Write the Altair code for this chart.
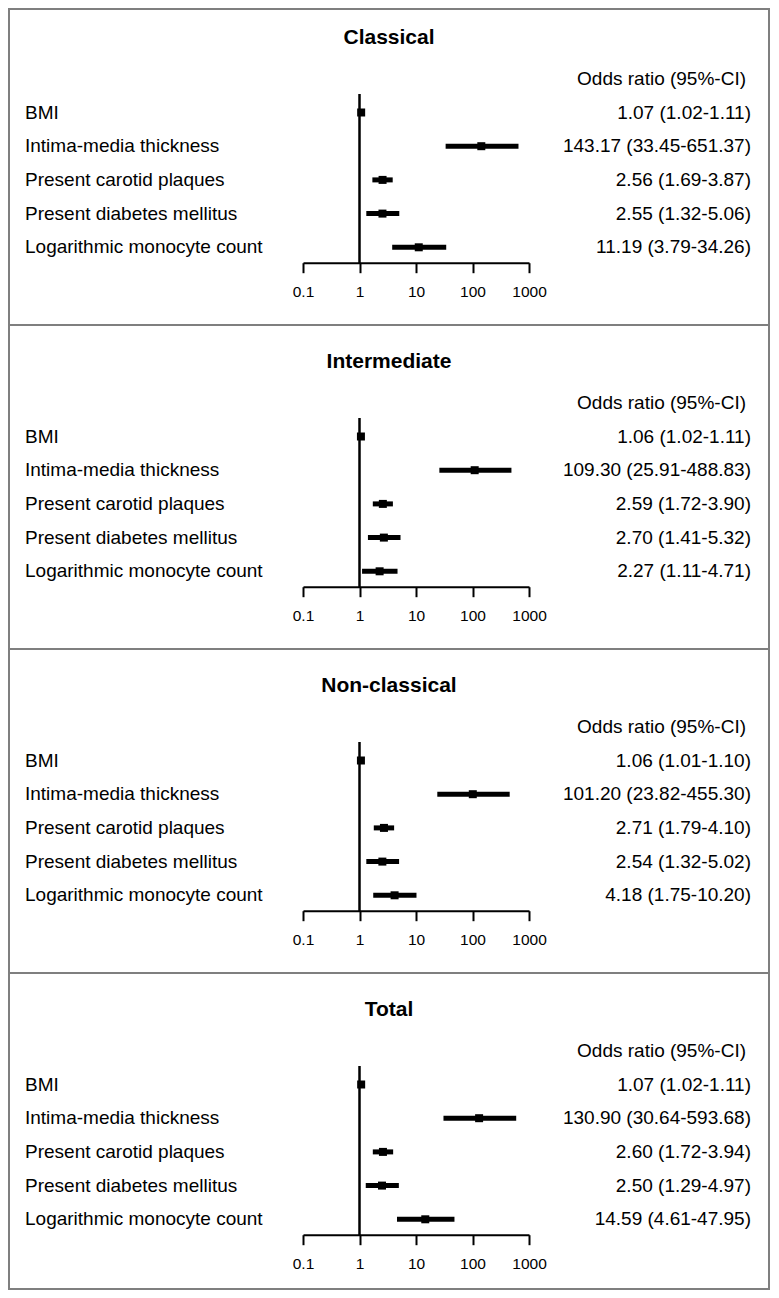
import altair as alt
import pandas as pd

FONT = "Liberation Sans"

VARIABLES = [
    "BMI",
    "Intima-media thickness",
    "Present carotid plaques",
    "Present diabetes mellitus",
    "Logarithmic monocyte count",
]
PANEL_TITLES = ["Classical", "Intermediate", "Non-classical", "Total"]
HEADER = "Odds ratio (95%-CI)"
TICK_VALUES = [0.1, 1, 10, 100, 1000]
REFERENCE_OR = [1.0]

CLASSICAL_OR = [1.07, 143.17, 2.56, 2.55, 11.19]
CLASSICAL_LO = [1.02, 33.45, 1.69, 1.32, 3.79]
CLASSICAL_HI = [1.11, 651.37, 3.87, 5.06, 34.26]

INTERMEDIATE_OR = [1.06, 109.30, 2.59, 2.70, 2.27]
INTERMEDIATE_LO = [1.02, 25.91, 1.72, 1.41, 1.11]
INTERMEDIATE_HI = [1.11, 488.83, 3.90, 5.32, 4.71]

NONCLASSICAL_OR = [1.06, 101.20, 2.71, 2.54, 4.18]
NONCLASSICAL_LO = [1.01, 23.82, 1.79, 1.32, 1.75]
NONCLASSICAL_HI = [1.10, 455.30, 4.10, 5.02, 10.20]

TOTAL_OR = [1.07, 130.90, 2.60, 2.50, 14.59]
TOTAL_LO = [1.02, 30.64, 1.72, 1.29, 4.61]
TOTAL_HI = [1.11, 593.68, 3.94, 4.97, 47.95]

SERIES = [
    (CLASSICAL_OR, CLASSICAL_LO, CLASSICAL_HI),
    (INTERMEDIATE_OR, INTERMEDIATE_LO, INTERMEDIATE_HI),
    (NONCLASSICAL_OR, NONCLASSICAL_LO, NONCLASSICAL_HI),
    (TOTAL_OR, TOTAL_LO, TOTAL_HI),
]
# panel plot heights and the offset of each panel's top from its frame in the reference
HEIGHTS = [316, 324, 324, 316]
SHIFTS = [8, 0, 0, 0]
W = 760


def panel(title, orv, lo, hi, H, shift):
    df = pd.DataFrame({
        "row": list(range(1, len(VARIABLES) + 1)),
        "var": VARIABLES,
        "or": orv,
        "lo": lo,
        "hi": hi,
        "lab": [f"{o:.2f} ({l:.2f}-{h:.2f})" for o, l, h in zip(orv, lo, hi)],
    })
    xsc = alt.Scale(type="log", domain=[0.1, 1000], range=[294, 520])
    xax = alt.Axis(
        values=TICK_VALUES, format="~g", grid=False, title=None,
        domainColor="black", domainWidth=2, tickColor="black", tickWidth=2,
        tickSize=10, labelFont=FONT, labelFontSize=15.5, labelColor="black",
        labelPadding=12, labelFlush=False, labelOverlap=False,
        offset=261.7 - shift - H,
    )
    ysc = alt.Scale(domain=[0, 5], range=[77.8 - shift, 246.3 - shift])
    yenc = alt.Y("row:Q", scale=ysc, axis=None)
    base = alt.Chart(df)

    ref = alt.Chart(pd.DataFrame({"v": REFERENCE_OR})).mark_rule(
        color="black", strokeWidth=2.5
    ).encode(
        x=alt.X("v:Q", scale=xsc, axis=xax),
        y=alt.value(93 - shift),
        y2=alt.value(262 - shift),
    )
    ci = base.mark_rule(color="black", strokeWidth=5).encode(
        x=alt.X("lo:Q", scale=xsc, axis=xax), x2="hi:Q", y=yenc
    )
    pts = base.mark_square(color="black", size=64, opacity=1).encode(
        x=alt.X("or:Q", scale=xsc, axis=xax), y=yenc
    )
    left = base.mark_text(
        align="left", baseline="middle", font=FONT, fontSize=19, color="black"
    ).encode(x=alt.value(16), y=yenc, text="var:N")
    right = base.mark_text(
        align="right", baseline="middle", font=FONT, fontSize=19, color="black"
    ).encode(x=alt.value(742), y=yenc, text="lab:N")
    header = alt.Chart(pd.DataFrame({"row": [0], "t": [HEADER]})).mark_text(
        align="right", baseline="middle", font=FONT, fontSize=19, color="black"
    ).encode(x=alt.value(737), y=yenc, text="t:N")
    ttl = alt.Chart(pd.DataFrame({"t": [title]})).mark_text(
        align="center", baseline="middle", font=FONT, fontSize=21,
        fontWeight="bold", color="black"
    ).encode(x=alt.value(380), y=alt.value(37 - shift), text="t:N")

    return alt.layer(ref, ci, pts, left, right, header, ttl).properties(
        width=W, height=H
    )


panels = [
    panel(t, s[0], s[1], s[2], h, sh)
    for t, s, h, sh in zip(PANEL_TITLES, SERIES, HEIGHTS, SHIFTS)
]

chart = (
    alt.vconcat(*panels, spacing=0, bounds="flush")
    .properties(padding=0, background="white")
    .configure_view(stroke="#7f7f7f", strokeWidth=2)
)

chart.save("out.html", embed_options={"renderer": "svg", "actions": False})
